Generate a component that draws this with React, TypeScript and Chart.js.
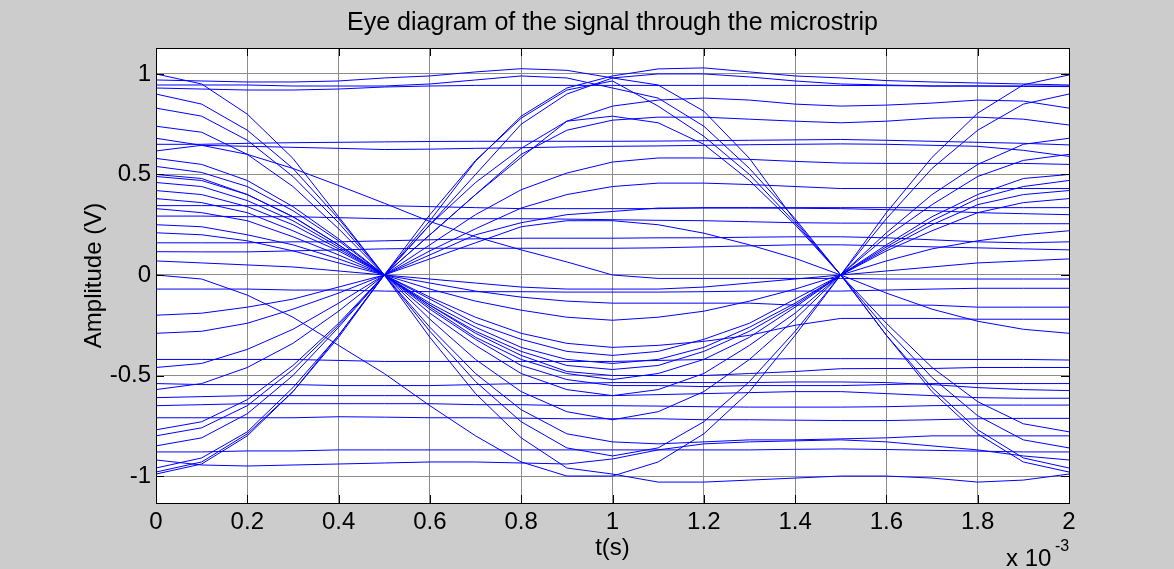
import React, { useEffect, useRef } from 'react';
import { Chart, registerables } from 'chart.js';

Chart.register(...registerables);

const FONT = "'Liberation Sans', Arial, sans-serif";

// time samples (s)
const timeS = [0, 0.0001, 0.0002, 0.0003, 0.0004, 0.0005, 0.0006, 0.0007, 0.0008, 0.0009, 0.001,
  0.0011, 0.0012, 0.0013, 0.0014, 0.0015, 0.0016, 0.0017, 0.0018, 0.0019, 0.002];

const xTicks = [0, 0.0002, 0.0004, 0.0006, 0.0008, 0.001, 0.0012, 0.0014, 0.0016, 0.0018, 0.002];
const xTickLabels = ['0', '0.2', '0.4', '0.6', '0.8', '1', '1.2', '1.4', '1.6', '1.8', '2'];
const yTicks = [-1, -0.5, 0, 0.5, 1];
const yTickLabels = ['-1', '-0.5', '0', '0.5', '1'];

const titleText = 'Eye diagram of the signal through the microstrip';
const xLabel = 't(s)';
const yLabel = 'Amplitude (V)';

// traces (V), one per eye-diagram sweep
const trace01 = [1.0, 0.95, 0.80, 0.58, 0.29, 0, -0.31, -0.59, -0.81, -0.96, -0.99, -1.03, -1.03, -1.02, -1.01, -1.0, -1.0, -1.01, -1.03, -1.02, -0.99];
const trace02 = [0.9, 0.85, 0.72, 0.53, 0.28, 0, -0.28, -0.53, -0.73, -0.86, -0.9, -0.86, -0.73, -0.53, -0.28, 0, 0.28, 0.53, 0.72, 0.85, 0.9];
const trace03 = [0.83, 0.79, 0.67, 0.49, 0.26, 0, -0.26, -0.49, -0.67, -0.79, -0.83, -0.84, -0.83, -0.82, -0.82, -0.815, -0.81, -0.8, -0.8, -0.8, -0.8];
const trace04 = [0.74, 0.71, 0.6, 0.44, 0.23, 0, -0.22, -0.42, -0.58, -0.68, -0.72, -0.68, -0.58, -0.42, -0.22, 0, 0.21, 0.4, 0.55, 0.65, 0.68];
const trace05 = [0.58, 0.55, 0.47, 0.34, 0.18, 0, -0.19, -0.35, -0.49, -0.57, -0.6, -0.57, -0.49, -0.35, -0.19, 0, 0.19, 0.35, 0.49, 0.57, 0.6];
const trace06 = [0.54, 0.51, 0.44, 0.32, 0.17, 0, -0.17, -0.32, -0.45, -0.52, -0.55, -0.55, -0.555, -0.55, -0.55, -0.55, -0.545, -0.54, -0.54, -0.54, -0.54];
const trace07 = [0.5, 0.48, 0.4, 0.29, 0.15, 0, -0.16, -0.31, -0.42, -0.49, -0.52, -0.49, -0.42, -0.31, -0.16, 0, 0.15, 0.29, 0.4, 0.48, 0.5];
const trace08 = [0.49, 0.47, 0.4, 0.29, 0.15, 0, -0.15, -0.29, -0.4, -0.48, -0.5, -0.5, -0.5, -0.49, -0.48, -0.466, -0.465, -0.465, -0.46, -0.46, -0.46];
const trace09 = [0.46, 0.44, 0.37, 0.27, 0.14, 0, -0.15, -0.28, -0.38, -0.45, -0.47, -0.45, -0.38, -0.28, -0.15, 0, 0.14, 0.27, 0.38, 0.44, 0.47];
const trace10 = [0.42, 0.4, 0.34, 0.25, 0.13, 0, -0.14, -0.26, -0.36, -0.42, -0.44, -0.42, -0.36, -0.26, -0.14, 0, 0.13, 0.25, 0.35, 0.4, 0.42];
const trace11 = [0.38, 0.36, 0.31, 0.22, 0.12, 0, -0.12, -0.24, -0.32, -0.38, -0.4, -0.38, -0.32, -0.24, -0.12, 0, 0.12, 0.22, 0.31, 0.36, 0.38];
const trace12 = [0.33, 0.31, 0.27, 0.19, 0.1, 0, -0.11, -0.21, -0.29, -0.34, -0.36, -0.35, -0.33, -0.3, -0.25, -0.216, -0.216, -0.216, -0.22, -0.22, -0.22];
const trace13 = [0.25, 0.24, 0.2, 0.15, 0.08, 0, -0.07, -0.13, -0.175, -0.21, -0.225, -0.21, -0.18, -0.13, -0.07, 0, 0.07, 0.13, 0.17, 0.2, 0.22];
const trace14 = [0.21, 0.2, 0.17, 0.12, 0.06, 0, -0.04, -0.08, -0.11, -0.13, -0.14, -0.14, -0.14, -0.14, -0.15, -0.15, -0.15, -0.15, -0.16, -0.16, -0.16];
const trace15 = [0.07, 0.06, 0.05, 0.04, 0.02, 0, -0.02, -0.04, -0.06, -0.07, -0.07, -0.07, -0.06, -0.04, -0.02, 0, 0.02, 0.04, 0.06, 0.07, 0.08];
const trace16 = [-0.99, -0.94, -0.8, -0.58, -0.31, 0, 0.27, 0.566, 0.79, 0.93, 0.99, 1.025, 1.03, 1.01, 0.99, 0.98, 0.967, 0.96, 0.955, 0.95, 0.945];
const trace17 = [-0.98, -0.93, -0.79, -0.58, -0.3, 0, 0.25, 0.5, 0.75, 0.9, 0.98, 1.0, 1.0, 0.985, 0.965, 0.95, 0.945, 0.94, 0.94, 0.938, 0.937];
const trace18 = [-0.96, -0.91, -0.78, -0.56, -0.3, 0, 0.3, 0.57, 0.78, 0.92, 0.965, 0.84, 0.69, 0.5, 0.26, 0, -0.27, -0.51, -0.7, -0.82, -0.86];
const trace19 = [-0.85, -0.81, -0.69, -0.5, -0.26, 0, 0.25, 0.46, 0.63, 0.765, 0.79, 0.757, 0.65, 0.47, 0.25, 0, -0.24, -0.46, -0.63, -0.74, -0.78];
const trace20 = [-0.8, -0.76, -0.65, -0.47, -0.25, 0, 0.2, 0.4, 0.6, 0.72, 0.77, 0.785, 0.785, 0.775, 0.765, 0.757, 0.765, 0.78, 0.785, 0.775, 0.746];
const trace21 = [-0.77, -0.73, -0.62, -0.45, -0.24, 0, 0.2, 0.4, 0.585, 0.765, 0.84, 0.87, 0.88, 0.87, 0.85, 0.84, 0.845, 0.855, 0.87, 0.865, 0.83];
const trace22 = [-0.57, -0.54, -0.46, -0.34, -0.18, 0, 0.15, 0.3, 0.424, 0.507, 0.562, 0.582, 0.582, 0.575, 0.565, 0.557, 0.555, 0.555, 0.555, 0.555, 0.55];
const trace23 = [-0.46, -0.44, -0.37, -0.27, -0.14, 0, 0.12, 0.23, 0.333, 0.4, 0.44, 0.457, 0.457, 0.45, 0.44, 0.43, 0.43, 0.43, 0.43, 0.43, 0.43];
const trace24 = [-0.29, -0.28, -0.24, -0.17, -0.09, 0, 0.1, 0.2, 0.26, 0.3, 0.316, 0.333, 0.333, 0.333, 0.332, 0.33, 0.325, 0.32, 0.31, 0.305, 0.3];
const trace25 = [-0.2, -0.19, -0.16, -0.12, -0.06, 0, 0.08, 0.16, 0.24, 0.27, 0.27, 0.25, 0.208, 0.15, 0.083, 0, -0.09, -0.17, -0.23, -0.27, -0.29];
const trace26 = [0.97, 0.965, 0.96, 0.96, 0.965, 0.98, 0.99, 1.01, 1.026, 1.018, 0.98, 0.945, 0.815, 0.58, 0.27, 0, -0.3, -0.58, -0.79, -0.93, -0.98];
const trace27 = [0.945, 0.945, 0.945, 0.94, 0.94, 0.94, 0.95, 0.97, 0.99, 0.98, 0.93, 0.88, 0.74, 0.53, 0.28, 0, -0.3, -0.56, -0.77, -0.91, -0.96];
const trace28 = [0.93, 0.925, 0.92, 0.92, 0.925, 0.935, 0.94, 0.943, 0.943, 0.943, 0.943, 0.943, 0.943, 0.943, 0.943, 0.943, 0.942, 0.94, 0.94, 0.94, 0.94];
const trace29 = [0.65, 0.65, 0.655, 0.658, 0.66, 0.662, 0.664, 0.665, 0.665, 0.665, 0.665, 0.666, 0.668, 0.67, 0.672, 0.674, 0.67, 0.665, 0.66, 0.655, 0.647];
const trace30 = [0.617, 0.645, 0.64, 0.635, 0.63, 0.624, 0.626, 0.63, 0.633, 0.637, 0.64, 0.642, 0.645, 0.648, 0.65, 0.652, 0.65, 0.645, 0.64, 0.62, 0.59];
const trace31 = [0.345, 0.345, 0.345, 0.345, 0.345, 0.345, 0.34, 0.335, 0.33, 0.33, 0.33, 0.33, 0.335, 0.335, 0.335, 0.335, 0.335, 0.335, 0.335, 0.335, 0.335];
const trace32 = [0.293, 0.293, 0.29, 0.29, 0.285, 0.28, 0.28, 0.28, 0.28, 0.278, 0.275, 0.272, 0.27, 0.265, 0.26, 0.258, 0.258, 0.256, 0.255, 0.255, 0.255];
const trace33 = [0.16, 0.16, 0.16, 0.165, 0.165, 0.17, 0.175, 0.18, 0.183, 0.183, 0.183, 0.185, 0.185, 0.188, 0.19, 0.19, 0.185, 0.175, 0.165, 0.16, 0.165];
const trace34 = [0.116, 0.115, 0.115, 0.12, 0.125, 0.13, 0.133, 0.133, 0.133, 0.133, 0.133, 0.135, 0.14, 0.145, 0.15, 0.15, 0.145, 0.14, 0.135, 0.13, 0.125];
const trace35 = [-0.07, -0.07, -0.07, -0.075, -0.075, -0.08, -0.083, -0.083, -0.083, -0.085, -0.085, -0.085, -0.083, -0.08, -0.08, -0.08, -0.075, -0.07, -0.066, -0.066, -0.066];
const trace36 = [-0.42, -0.42, -0.42, -0.42, -0.425, -0.43, -0.43, -0.43, -0.43, -0.43, -0.43, -0.425, -0.42, -0.42, -0.416, -0.416, -0.416, -0.42, -0.42, -0.42, -0.423];
const trace37 = [-0.54, -0.545, -0.545, -0.545, -0.55, -0.55, -0.55, -0.545, -0.54, -0.54, -0.535, -0.535, -0.535, -0.535, -0.532, -0.532, -0.535, -0.545, -0.56, -0.57, -0.575];
const trace38 = [-0.61, -0.605, -0.6, -0.6, -0.6, -0.6, -0.6, -0.6, -0.6, -0.6, -0.6, -0.595, -0.59, -0.585, -0.58, -0.58, -0.59, -0.6, -0.61, -0.613, -0.613];
const trace39 = [-0.65, -0.645, -0.64, -0.64, -0.64, -0.64, -0.64, -0.645, -0.645, -0.65, -0.65, -0.652, -0.655, -0.657, -0.657, -0.657, -0.655, -0.65, -0.647, -0.647, -0.647];
const trace40 = [-0.71, -0.71, -0.71, -0.71, -0.705, -0.707, -0.71, -0.71, -0.712, -0.715, -0.715, -0.715, -0.72, -0.72, -0.722, -0.724, -0.724, -0.72, -0.715, -0.713, -0.713];
const trace41 = [-0.88, -0.88, -0.875, -0.875, -0.87, -0.87, -0.87, -0.87, -0.87, -0.87, -0.87, -0.87, -0.87, -0.87, -0.867, -0.865, -0.868, -0.872, -0.876, -0.88, -0.88];
const trace42 = [-0.92, -0.945, -0.95, -0.945, -0.94, -0.935, -0.93, -0.93, -0.935, -0.94, -0.915, -0.87, -0.84, -0.83, -0.825, -0.82, -0.83, -0.85, -0.87, -0.9, -0.92];
const trace43 = [0, -0.02, -0.1, -0.21, -0.35, -0.49, -0.65, -0.8, -0.93, -1.0, -1.0, -0.93, -0.79, -0.58, -0.3, 0, 0.31, 0.585, 0.805, 0.946, 0.995];
const trace44 = [0.68, 0.645, 0.6, 0.53, 0.445, 0.357, 0.266, 0.19, 0.125, 0.065, 0.0, -0.017, -0.017, -0.017, -0.017, -0.017, -0.02, -0.02, -0.02, -0.02, -0.02];

const traces = [trace01, trace02, trace03, trace04, trace05, trace06, trace07, trace08, trace09, trace10,
  trace11, trace12, trace13, trace14, trace15, trace16, trace17, trace18, trace19, trace20,
  trace21, trace22, trace23, trace24, trace25, trace26, trace27, trace28, trace29, trace30,
  trace31, trace32, trace33, trace34, trace35, trace36, trace37, trace38, trace39, trace40,
  trace41, trace42, trace43, trace44];

const framePlugin = {
  id: 'matlabFrame',
  beforeDraw(chart: any) {
    const { ctx, chartArea: a } = chart;
    ctx.save();
    ctx.fillStyle = '#cccccc';
    ctx.fillRect(0, 0, chart.width, chart.height);
    ctx.fillStyle = '#ffffff';
    ctx.fillRect(a.left, a.top, a.right - a.left, a.bottom - a.top);
    ctx.restore();
  },
  afterDraw(chart: any) {
    const { ctx, chartArea: a, scales } = chart;
    ctx.save();
    ctx.strokeStyle = '#000000';
    ctx.lineWidth = 1;
    ctx.strokeRect(a.left + 0.5, a.top + 0.5, a.right - a.left, a.bottom - a.top);
    const tl = 8;
    ctx.beginPath();
    xTicks.forEach((v) => {
      const px = Math.round(scales.x.getPixelForValue(v)) + 0.5;
      ctx.moveTo(px, a.bottom);
      ctx.lineTo(px, a.bottom - tl);
      ctx.moveTo(px, a.top);
      ctx.lineTo(px, a.top + tl);
    });
    yTicks.forEach((v) => {
      const py = Math.round(scales.y.getPixelForValue(v)) + 0.5;
      ctx.moveTo(a.left, py);
      ctx.lineTo(a.left + tl, py);
      ctx.moveTo(a.right, py);
      ctx.lineTo(a.right - tl, py);
    });
    ctx.stroke();

    ctx.fillStyle = '#000000';
    ctx.textAlign = 'center';
    ctx.textBaseline = 'alphabetic';
    ctx.font = `25px ${FONT}`;
    ctx.fillText(titleText, (a.left + a.right) / 2, 30);

    ctx.font = `24px ${FONT}`;
    ctx.fillText(xLabel, (a.left + a.right) / 2, 555);

    ctx.save();
    ctx.translate(101, (a.top + a.bottom) / 2);
    ctx.rotate(-Math.PI / 2);
    ctx.font = `24px ${FONT}`;
    ctx.fillText(yLabel, 0, 0);
    ctx.restore();

    ctx.textAlign = 'left';
    ctx.font = `24px ${FONT}`;
    ctx.fillText('x 10', 1006, 566);
    ctx.font = `16px ${FONT}`;
    ctx.fillText('-3', 1055, 551);
    ctx.restore();
  },
};

export default function App() {
  const ref = useRef<HTMLCanvasElement>(null);
  useEffect(() => {
    const canvas = ref.current;
    if (!canvas) return;
    const datasets = traces.map((tr) => ({
      data: tr.map((y, i) => ({ x: timeS[i], y })),
      borderColor: 'rgb(0,0,255)',
      borderWidth: 1,
      pointRadius: 0,
      fill: false,
      tension: 0,
    }));
    const chart = new Chart(canvas, {
      type: 'line',
      data: { datasets },
      options: {
        responsive: false,
        animation: false,
        devicePixelRatio: 1,
        layout: { padding: { left: 0, top: 48, right: 105, bottom: 0 } },
        plugins: { legend: { display: false }, tooltip: { enabled: false }, title: { display: false } },
        scales: {
          x: {
            type: 'linear',
            min: 0,
            max: 0.002,
            afterBuildTicks: (s: any) => { s.ticks = xTicks.map((v) => ({ value: v })); },
            afterFit: (s: any) => { s.height = 66; },
            ticks: {
              callback: (_v: any, i: number) => xTickLabels[i],
              color: '#000000',
              font: { family: FONT, size: 24 },
              padding: 5,
              maxRotation: 0,
              minRotation: 0,
              autoSkip: false,
            },
            grid: { color: '#8c8c8c', lineWidth: 1, drawTicks: false },
            border: { display: false },
          },
          y: {
            type: 'linear',
            min: -1.134,
            max: 1.129,
            afterBuildTicks: (s: any) => { s.ticks = yTicks.map((v) => ({ value: v })); },
            afterFit: (s: any) => { s.width = 156; },
            ticks: {
              callback: (_v: any, i: number) => yTickLabels[i],
              color: '#000000',
              font: { family: FONT, size: 24 },
              padding: 5,
              autoSkip: false,
            },
            grid: { color: '#8c8c8c', lineWidth: 1, drawTicks: false },
            border: { display: false },
          },
        },
      } as any,
      plugins: [framePlugin],
    });
    return () => chart.destroy();
  }, []);
  return (
    <div style={{ position: 'fixed', left: 0, top: 0, width: 1174, height: 569, background: '#cccccc' }}>
      <canvas ref={ref} width={1174} height={569} style={{ display: 'block', width: 1174, height: 569 }} />
    </div>
  );
}
